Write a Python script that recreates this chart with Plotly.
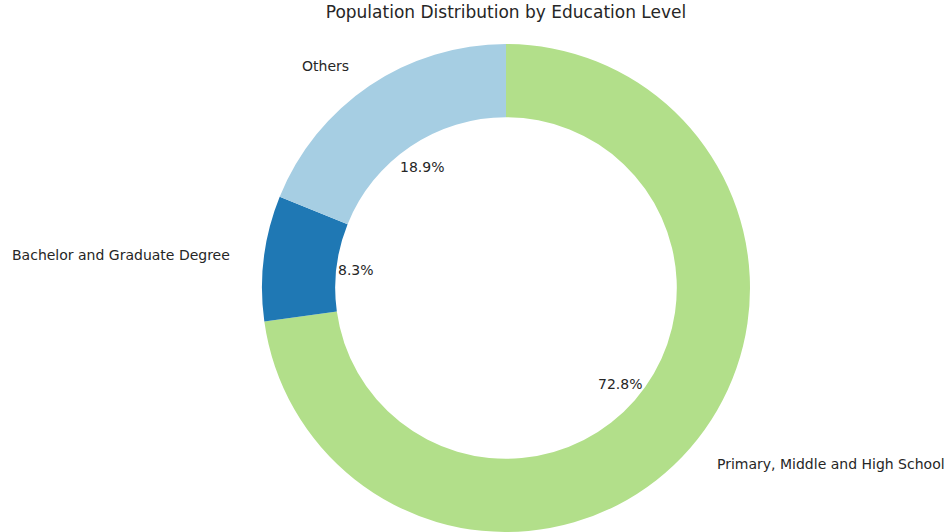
import math
import plotly.graph_objects as go

labels = ["Others", "Bachelor and Graduate Degree", "Primary, Middle and High School"]
values = [18.9, 8.3, 72.8]
colors = ["#a6cee3", "#1f78b4", "#b2df8a"]
title = "Population Distribution by Education Level"

# slices laid out counterclockwise from 12 o'clock (matplotlib startangle=90);
# plotly is fed the reversed order clockwise, which is the same picture
fig = go.Figure(go.Pie(
    labels=labels[::-1], values=values[::-1], sort=False, direction="clockwise",
    rotation=0, hole=0.7, textinfo="none", hoverinfo="label+percent",
    marker=dict(colors=colors[::-1], line=dict(width=0)), showlegend=False,
    domain=dict(x=[0, 1], y=[0, 1]),
))

total = sum(values)
start = 90.0
kx = 1.03  # the reference is slightly stretched horizontally
annotations = []
for lab, v in zip(labels, values):
    span = 360.0 * v / total
    mid = math.radians(start + span / 2)
    c, s = math.cos(mid), math.sin(mid)
    annotations.append(dict(
        x=0.5 + 0.5 * 1.1 * c * kx, y=0.5 + 0.5 * 1.1 * s, xref="paper", yref="paper",
        text=lab, showarrow=False, xanchor="left" if c > 0 else "right", yanchor="middle",
        font=dict(family="DejaVu Sans", size=14, color="#262626"),
    ))
    annotations.append(dict(
        x=0.5 + 0.5 * 0.6 * c * kx, y=0.5 + 0.5 * 0.6 * s, xref="paper", yref="paper",
        text=f"{v / total * 100:.1f}%", showarrow=False, xanchor="center", yanchor="middle",
        font=dict(family="DejaVu Sans", size=14, color="#262626"),
    ))
    start += span

fig.update_layout(
    width=951, height=532,
    margin=dict(l=262, r=201, t=44, b=0),
    paper_bgcolor="white", plot_bgcolor="white",
    title=dict(text=title, x=506 / 951, xanchor="center", y=1 - 12 / 532, yanchor="middle",
               font=dict(family="DejaVu Sans", size=17, color="#262626")),
    annotations=annotations,
)
fig.write_html("out.html", config={"displayModeBar": False},
               post_script="document.body.style.margin='0px';")
